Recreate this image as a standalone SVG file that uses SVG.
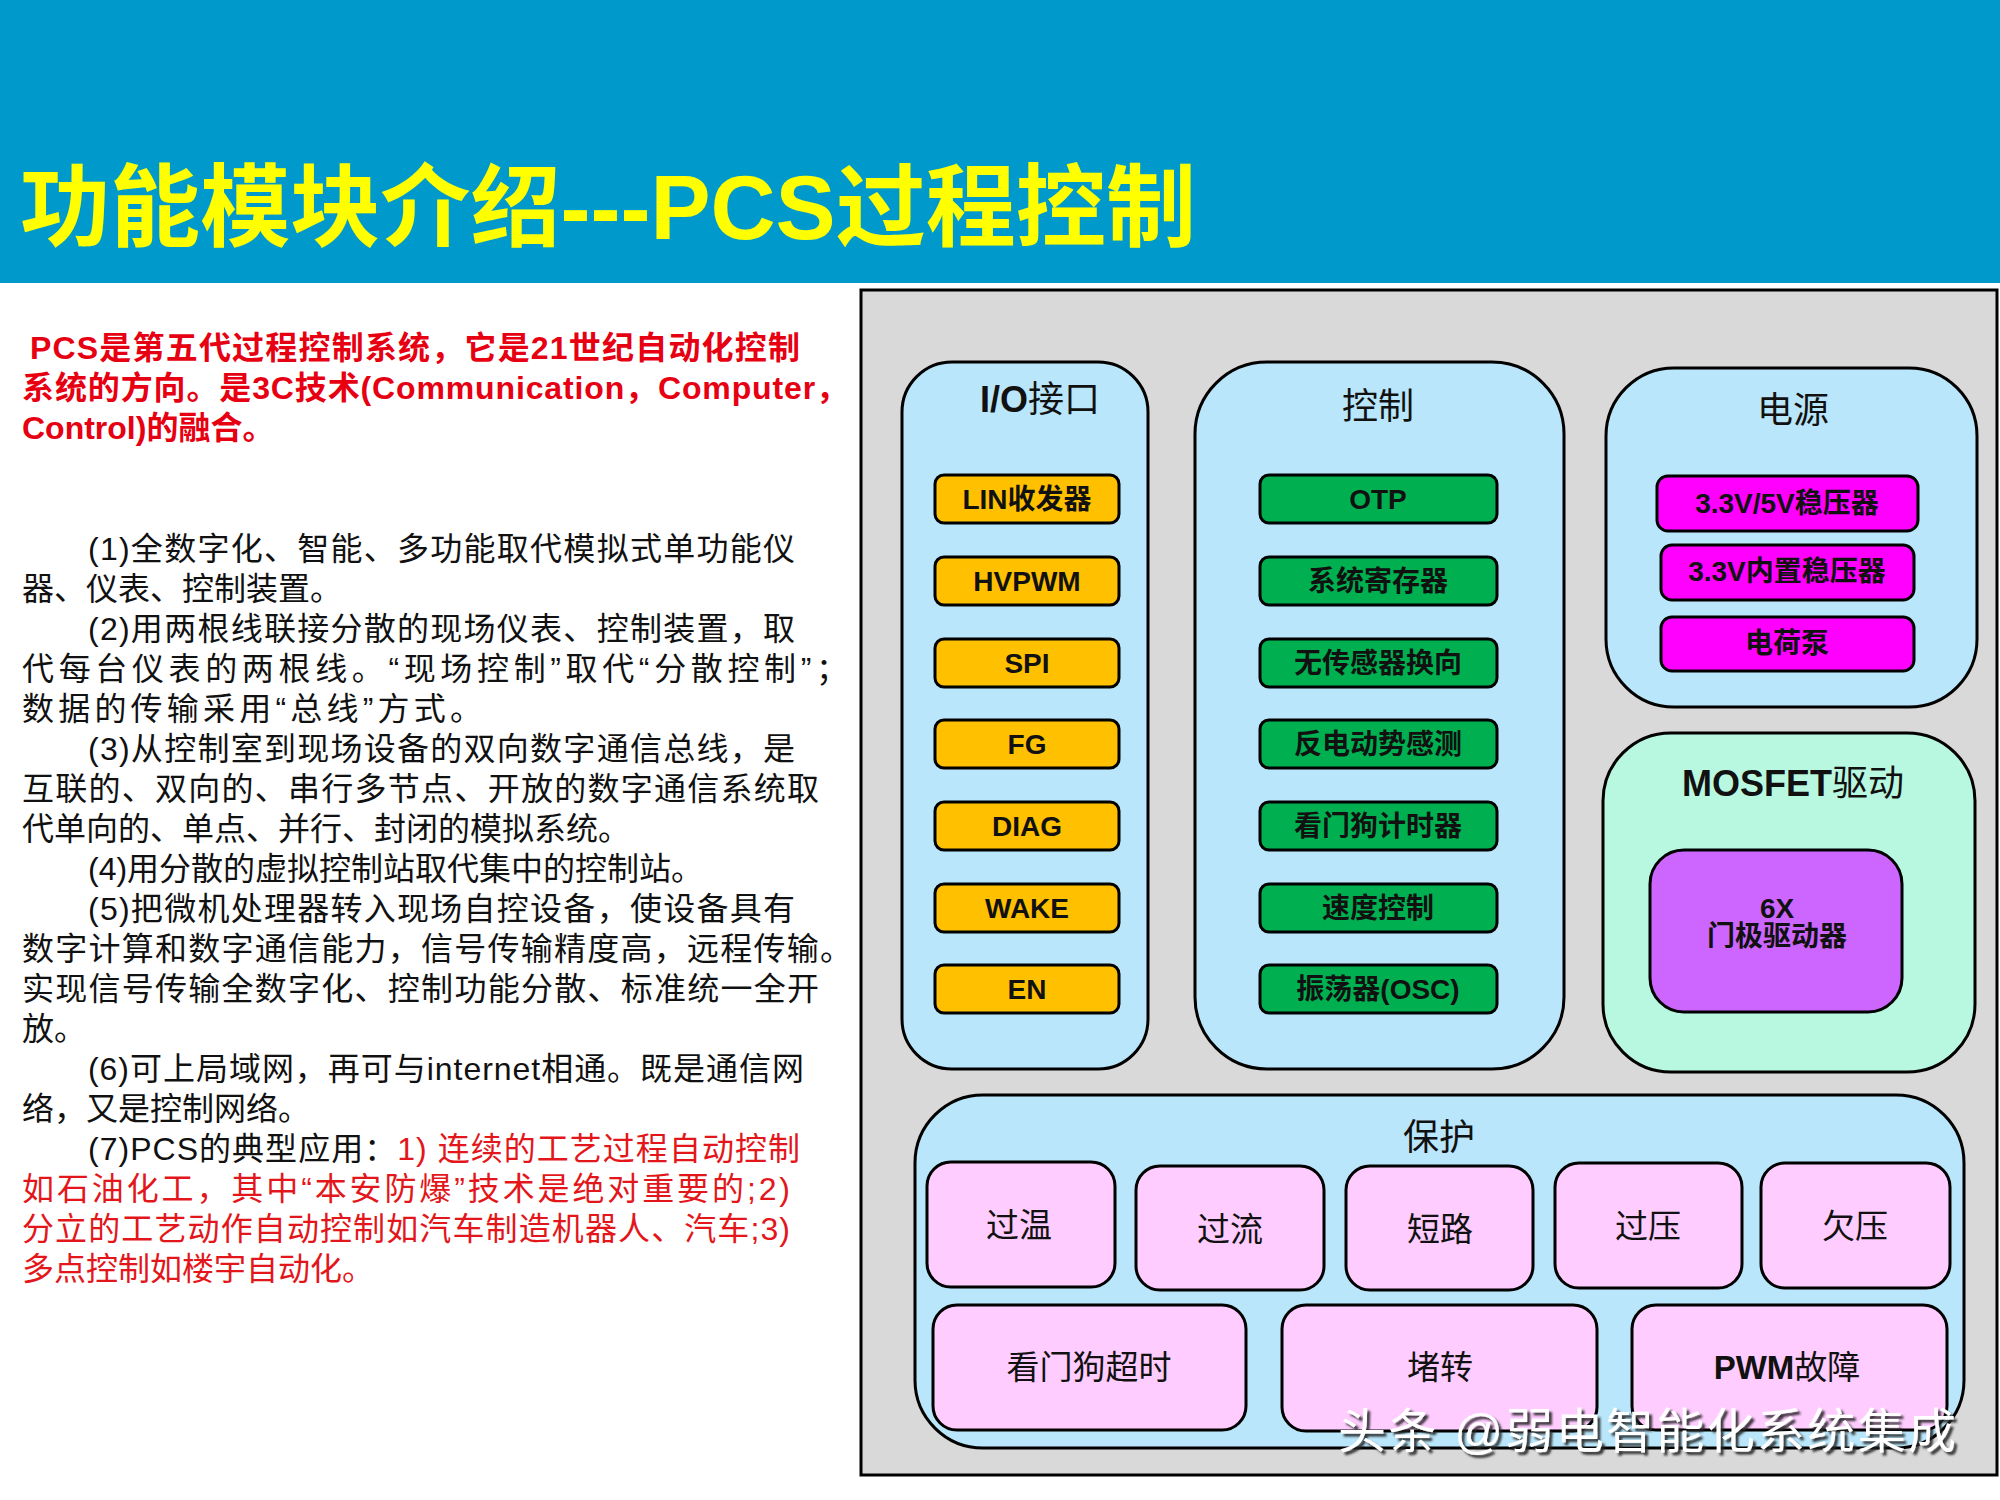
<svg xmlns="http://www.w3.org/2000/svg" width="2000" height="1500" viewBox="0 0 2000 1500">
<defs>
<style>
.f { font-family: "Liberation Sans", "Noto Sans CJK SC", sans-serif; }
.title { font-size: 90px; font-weight: bold; fill: #FFFF00; }
.red { font-size: 32px; font-weight: bold; fill: #E60012; }
.body { font-size: 32px; fill: #111; }
.rb { fill: #E3171B; }
.grp { stroke: #000; stroke-width: 3; }
.blue { fill: #B9E6FA; }
.mint { fill: #B9F8E0; }
.item { stroke: #000; stroke-width: 3; }
.orange { fill: #FFC000; }
.green { fill: #00B050; }
.mag { fill: #FF00FF; }
.purple { fill: #CC66FF; }
.pink { fill: #FFCCFF; }
.gt { font-size: 36px; fill: #111; text-anchor: middle; }
.it { font-size: 28px; font-weight: bold; fill: #111; text-anchor: middle; }
.pt { font-size: 33px; fill: #111; text-anchor: middle; }
.wm { font-size: 48px; fill: #FFFFFF; }
</style>
<filter id="sh" x="-5%" y="-20%" width="110%" height="150%">
<feDropShadow dx="3" dy="3" stdDeviation="1.2" flood-color="#222" flood-opacity="0.9"/>
</filter>
</defs>
<rect x="0" y="0" width="2000" height="1500" fill="#FFFFFF"/>
<rect x="0" y="0" width="2000" height="283" fill="#0099CC"/>
<text class="f title" x="20" y="239" textLength="1176" lengthAdjust="spacingAndGlyphs">功能模块介绍---PCS过程控制</text>

<g id="intro">
<text class="f red" x="30" y="359" textLength="770" lengthAdjust="spacing">PCS是第五代过程控制系统，它是21世纪自动化控制</text>
<text class="f red" x="22" y="399" textLength="826" lengthAdjust="spacing">系统的方向。是3C技术(Communication，Computer，</text>
<text class="f red" x="22" y="439">Control)的融合。</text>
</g>

<g id="body">
<text class="f body" x="88" y="560" textLength="707" lengthAdjust="spacing">(1)全数字化、智能、多功能取代模拟式单功能仪</text>
<text class="f body" x="22" y="600">器、仪表、控制装置。</text>
<text class="f body" x="88" y="640" textLength="707" lengthAdjust="spacing">(2)用两根线联接分散的现场仪表、控制装置，取</text>
<text class="f body" x="22" y="680" textLength="826" lengthAdjust="spacing">代每台仪表的两根线。“现场控制”取代“分散控制”；</text>
<text class="f body" x="22" y="720" textLength="460" lengthAdjust="spacing">数据的传输采用“总线”方式。</text>
<text class="f body" x="88" y="760" textLength="707" lengthAdjust="spacing">(3)从控制室到现场设备的双向数字通信总线，是</text>
<text class="f body" x="22" y="800" textLength="797" lengthAdjust="spacing">互联的、双向的、串行多节点、开放的数字通信系统取</text>
<text class="f body" x="22" y="840">代单向的、单点、并行、封闭的模拟系统。</text>
<text class="f body" x="88" y="880">(4)用分散的虚拟控制站取代集中的控制站。</text>
<text class="f body" x="88" y="920" textLength="707" lengthAdjust="spacing">(5)把微机处理器转入现场自控设备，使设备具有</text>
<text class="f body" x="22" y="960" textLength="830" lengthAdjust="spacing">数字计算和数字通信能力，信号传输精度高，远程传输。</text>
<text class="f body" x="22" y="1000" textLength="797" lengthAdjust="spacing">实现信号传输全数字化、控制功能分散、标准统一全开</text>
<text class="f body" x="22" y="1040">放。</text>
<text class="f body" x="88" y="1080" textLength="716" lengthAdjust="spacing">(6)可上局域网，再可与internet相通。既是通信网</text>
<text class="f body" x="22" y="1120">络，又是控制网络。</text>
<text class="f body" x="88" y="1160" textLength="712" lengthAdjust="spacing">(7)PCS的典型应用：<tspan class="rb">1) 连续的工艺过程自动控制</tspan></text>
<text class="f body rb" x="22" y="1200" textLength="768" lengthAdjust="spacing">如石油化工，其中“本安防爆”技术是绝对重要的;2)</text>
<text class="f body rb" x="22" y="1240" textLength="768" lengthAdjust="spacing">分立的工艺动作自动控制如汽车制造机器人、汽车;3)</text>
<text class="f body rb" x="22" y="1280">多点控制如楼宇自动化。</text>
</g>

<rect id="panel" x="861" y="290" width="1136" height="1185" fill="#D9D9D9" stroke="#000" stroke-width="3"/>

<g id="io">
<rect class="grp blue" x="902" y="362" width="246" height="707" rx="50"/>
<text class="f gt" x="1040" y="412"><tspan font-weight="bold">I/O</tspan>接口</text>
</g>
<g id="io-lin"><rect class="item orange" x="935" y="475" width="184" height="48" rx="9"/><text class="f it" x="1027" y="509">LIN收发器</text></g>
<g id="io-hvpwm"><rect class="item orange" x="935" y="557" width="184" height="48" rx="9"/><text class="f it" x="1027" y="591">HVPWM</text></g>
<g id="io-spi"><rect class="item orange" x="935" y="639" width="184" height="48" rx="9"/><text class="f it" x="1027" y="673">SPI</text></g>
<g id="io-fg"><rect class="item orange" x="935" y="720" width="184" height="48" rx="9"/><text class="f it" x="1027" y="754">FG</text></g>
<g id="io-diag"><rect class="item orange" x="935" y="802" width="184" height="48" rx="9"/><text class="f it" x="1027" y="836">DIAG</text></g>
<g id="io-wake"><rect class="item orange" x="935" y="884" width="184" height="48" rx="9"/><text class="f it" x="1027" y="918">WAKE</text></g>
<g id="io-en"><rect class="item orange" x="935" y="965" width="184" height="48" rx="9"/><text class="f it" x="1027" y="999">EN</text></g>

<g id="ctrl">
<rect class="grp blue" x="1195" y="362" width="369" height="707" rx="72"/>
<text class="f gt" x="1378" y="419">控制</text>
</g>
<g id="ctrl-otp"><rect class="item green" x="1260" y="475" width="237" height="48" rx="9"/><text class="f it" x="1378" y="509">OTP</text></g>
<g id="ctrl-reg"><rect class="item green" x="1260" y="557" width="237" height="48" rx="9"/><text class="f it" x="1378" y="591">系统寄存器</text></g>
<g id="ctrl-sensorless"><rect class="item green" x="1260" y="639" width="237" height="48" rx="9"/><text class="f it" x="1378" y="673">无传感器换向</text></g>
<g id="ctrl-bemf"><rect class="item green" x="1260" y="720" width="237" height="48" rx="9"/><text class="f it" x="1378" y="754">反电动势感测</text></g>
<g id="ctrl-wdt"><rect class="item green" x="1260" y="802" width="237" height="48" rx="9"/><text class="f it" x="1378" y="836">看门狗计时器</text></g>
<g id="ctrl-speed"><rect class="item green" x="1260" y="884" width="237" height="48" rx="9"/><text class="f it" x="1378" y="918">速度控制</text></g>
<g id="ctrl-osc"><rect class="item green" x="1260" y="965" width="237" height="48" rx="9"/><text class="f it" x="1378" y="999">振荡器(OSC)</text></g>

<g id="power">
<rect class="grp blue" x="1606" y="368" width="371" height="339" rx="68"/>
<text class="f gt" x="1793" y="423">电源</text>
</g>
<g id="pwr-ldo"><rect class="item mag" x="1657" y="476" width="261" height="55" rx="11"/><text class="f it" x="1787" y="513">3.3V/5V稳压器</text></g>
<g id="pwr-int"><rect class="item mag" x="1661" y="545" width="253" height="55" rx="11"/><text class="f it" x="1787" y="581">3.3V内置稳压器</text></g>
<g id="pwr-cp"><rect class="item mag" x="1661" y="617" width="253" height="54" rx="11"/><text class="f it" x="1787" y="653">电荷泵</text></g>

<g id="mosfet">
<rect class="grp mint" x="1603" y="733" width="372" height="339" rx="68"/>
<text class="f gt" x="1793" y="796"><tspan font-weight="bold">MOSFET</tspan>驱动</text>
</g>
<g id="gate-driver">
<rect class="item purple" x="1650" y="850" width="252" height="162" rx="34"/>
<text class="f it" x="1777" y="918">6X</text>
<text class="f it" x="1777" y="946" font-weight="normal" style="font-weight:bold">门极驱动器</text>
</g>

<g id="protect">
<rect class="grp blue" x="915" y="1095" width="1049" height="353" rx="68"/>
<text class="f gt" x="1439" y="1150">保护</text>
</g>
<g id="p-ot"><rect class="item pink" x="927" y="1162" width="188" height="125" rx="24"/><text class="f pt" x="1019" y="1237">过温</text></g>
<g id="p-oc"><rect class="item pink" x="1136" y="1166" width="188" height="124" rx="24"/><text class="f pt" x="1230" y="1241">过流</text></g>
<g id="p-sc"><rect class="item pink" x="1346" y="1166" width="187" height="124" rx="24"/><text class="f pt" x="1440" y="1241">短路</text></g>
<g id="p-ov"><rect class="item pink" x="1555" y="1163" width="187" height="125" rx="24"/><text class="f pt" x="1648" y="1238">过压</text></g>
<g id="p-uv"><rect class="item pink" x="1761" y="1163" width="189" height="125" rx="24"/><text class="f pt" x="1855" y="1238">欠压</text></g>
<g id="p-wdt"><rect class="item pink" x="933" y="1305" width="313" height="125" rx="24"/><text class="f pt" x="1089" y="1379">看门狗超时</text></g>
<g id="p-stall"><rect class="item pink" x="1282" y="1305" width="315" height="126" rx="24"/><text class="f pt" x="1440" y="1379">堵转</text></g>
<g id="p-pwm"><rect class="item pink" x="1632" y="1305" width="315" height="125" rx="24"/><text class="f pt" x="1787" y="1379"><tspan font-weight="bold">PWM</tspan>故障</text></g>

<g id="connectors"></g>

<text class="f wm" x="1338" y="1448" textLength="618" lengthAdjust="spacing" filter="url(#sh)">头条 @弱电智能化系统集成</text>
</svg>
